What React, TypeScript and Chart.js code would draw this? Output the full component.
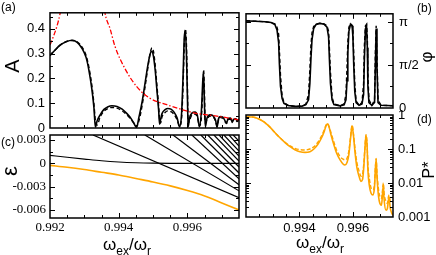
import React, { useEffect, useRef } from "react";
import { Chart, registerables } from "chart.js";

Chart.register(...registerables);

const SANS = "'Liberation Sans', Arial, Helvetica, sans-serif";
const SERIF = "'Liberation Serif', 'Times New Roman', serif";
const ORANGE = "#ffa500";
const RED = "#ff0000";

// ---------- panel (a): amplitude A ----------
const omegaA = [0.992, 0.99215, 0.99229, 0.99247, 0.99264, 0.99279, 0.99293, 0.99305, 0.99313, 0.99322,
  0.99328, 0.99332, 0.99337, 0.99346, 0.99357, 0.99369, 0.9938, 0.99395, 0.9941, 0.99424,
  0.99436, 0.99444, 0.99452, 0.99459, 0.99468, 0.99476, 0.99485, 0.99492, 0.99497, 0.99501,
  0.99506, 0.99511, 0.99516, 0.99519, 0.99522, 0.99526, 0.99535, 0.99543, 0.99552, 0.99561,
  0.9957, 0.99577, 0.99583, 0.99587, 0.99591, 0.99594, 0.99597, 0.996, 0.99602, 0.99606,
  0.99613, 0.99622, 0.99629, 0.99635, 0.99641, 0.99645, 0.99647, 0.99649, 0.99652, 0.99657,
  0.99666, 0.99674, 0.99682, 0.99686, 0.9969, 0.99696, 0.99703, 0.99711, 0.99714, 0.99718,
  0.99725, 0.9973, 0.99734, 0.99741, 0.99744, 0.9975];
const ampSolid = [0.293, 0.315, 0.334, 0.348, 0.354, 0.346, 0.322, 0.285, 0.235, 0.155,
  0.08, 0.004, 0.028, 0.053, 0.075, 0.086, 0.09, 0.087, 0.076, 0.058,
  0.038, 0.019, 0.003, 0.045, 0.105, 0.175, 0.255, 0.302, 0.31, 0.29,
  0.235, 0.155, 0.075, 0.015, 0.035, 0.058, 0.074, 0.079, 0.076, 0.064,
  0.04, 0.004, 0.06, 0.2, 0.37, 0.39, 0.3, 0.12, 0.005, 0.04,
  0.06, 0.064, 0.05, 0.005, 0.08, 0.2, 0.22, 0.12, 0.005, 0.04,
  0.053, 0.05, 0.03, 0.003, 0.035, 0.046, 0.044, 0.025, 0.02, 0.038,
  0.04, 0.025, 0.035, 0.037, 0.03, 0.036];
const ampDashed = [0.293, 0.315, 0.334, 0.349, 0.353, 0.348, 0.327, 0.293, 0.247, 0.17,
  0.095, 0.03, 0.012, 0.045, 0.068, 0.079, 0.083, 0.08, 0.069, 0.052,
  0.034, 0.02, 0.006, 0.03, 0.09, 0.16, 0.245, 0.305, 0.323, 0.31,
  0.255, 0.175, 0.09, 0.035, 0.02, 0.045, 0.063, 0.069, 0.066, 0.055,
  0.033, 0.008, 0.04, 0.16, 0.34, 0.4, 0.34, 0.16, 0.02, 0.03,
  0.053, 0.056, 0.043, 0.008, 0.05, 0.17, 0.235, 0.17, 0.02, 0.035,
  0.048, 0.045, 0.027, 0.006, 0.03, 0.042, 0.04, 0.022, 0.018, 0.034,
  0.036, 0.022, 0.032, 0.033, 0.026, 0.032];
const omegaRedLeft = [0.992, 0.99209, 0.9922, 0.99229, 0.99236];
const ampRedLeft = [0.335, 0.366, 0.41, 0.46, 0.52];
const omegaRedRight = [0.99355, 0.9936, 0.99375, 0.99389, 0.99418, 0.99453, 0.99491, 0.9954, 0.99578, 0.99622, 0.99686, 0.9975];
const ampRedRight = [0.52, 0.465, 0.4, 0.33, 0.24, 0.166, 0.12, 0.094, 0.077, 0.06, 0.048, 0.033];

// ---------- panel (b): phase ----------
const omegaB = [0.992, 0.99234, 0.99271, 0.99294, 0.99308, 0.99316, 0.99322, 0.99325, 0.99329, 0.99335,
  0.99342, 0.99357, 0.99383, 0.9941, 0.99424, 0.99434, 0.99439, 0.99443, 0.99447, 0.99453,
  0.99462, 0.99477, 0.99492, 0.99503, 0.99509, 0.99512, 0.99516, 0.99522, 0.99529, 0.99552,
  0.99567, 0.99574, 0.99578, 0.99581, 0.99585, 0.99591, 0.99597, 0.996, 0.99603, 0.99607,
  0.99612, 0.99623, 0.99634, 0.9964, 0.99643, 0.99647, 0.99651, 0.99654, 0.99656, 0.9966,
  0.99671, 0.99681, 0.99684, 0.99687, 0.9969, 0.99694, 0.99705, 0.9975];
const phaseSolid = [3.18, 3.17, 3.15, 3.12, 3.05, 2.85, 2.4, 1.6, 0.8, 0.35,
  0.17, 0.09, 0.06, 0.07, 0.12, 0.3, 0.9, 1.8, 2.5, 2.9,
  3.05, 3.09, 3.06, 2.95, 2.6, 1.8, 0.9, 0.3, 0.13, 0.08,
  0.12, 0.3, 1.0, 2.0, 2.8, 3.06, 3.0, 2.6, 1.6, 0.6,
  0.2, 0.1, 0.15, 0.5, 1.8, 2.9, 3.0, 2.2, 0.8, 0.2,
  0.1, 0.2, 1.5, 2.9, 1.5, 0.2, 0.1, 0.08];
const phaseDashed = [3.18, 3.17, 3.15, 3.12, 3.07, 2.95, 2.7, 2.1, 1.2, 0.45,
  0.2, 0.1, 0.06, 0.07, 0.14, 0.5, 1.4, 2.3, 2.75, 2.97,
  3.07, 3.1, 3.07, 3.0, 2.8, 2.2, 1.3, 0.4, 0.15, 0.08,
  0.15, 0.5, 1.5, 2.4, 2.95, 3.08, 3.02, 2.8, 2.0, 0.9,
  0.25, 0.1, 0.2, 0.9, 2.3, 3.0, 3.05, 2.6, 1.2, 0.3,
  0.1, 0.3, 2.0, 3.0, 1.9, 0.3, 0.1, 0.08];

// ---------- panel (c): quasi-energies ----------
const omegaLevel0 = [0.992, 0.9925, 0.993, 0.9935, 0.994, 0.9945, 0.995, 0.9955, 0.9975];
const epsLevel0 = [0.00102, 0.00078, 0.00055, 0.00033, 0.00017, 0.00007, 0.00002, 0, 0];
const omegaOrange = [0.992, 0.9925, 0.993, 0.9935, 0.994, 0.9945, 0.995, 0.9955, 0.996, 0.9965, 0.997, 0.9975];
const epsOrange = [-0.00026, -0.0005, -0.0008, -0.00115, -0.0015, -0.00195, -0.0024, -0.0029, -0.0035, -0.0042, -0.0051, -0.006];
const fanStartOmega = [0.99325, 0.99476, 0.99558, 0.99613, 0.99639, 0.99659, 0.99677, 0.99692, 0.99706, 0.99721, 0.99733];
const fanStartEps = 0.00364;
const fanEndOmega = 0.9975;
const fanEndEps = [-0.00443, -0.00354, -0.00277, -0.002, -0.00124, -0.00047, 0.00029, 0.00093, 0.00157, 0.00221, 0.00285];

// ---------- panel (d): P* ----------
const omegaD = [0.992, 0.99222, 0.99237, 0.99252, 0.99267, 0.99282, 0.99297, 0.99312, 0.99327, 0.99346,
  0.99365, 0.99383, 0.99402, 0.99421, 0.99439, 0.99454, 0.99469, 0.99481, 0.99492, 0.99499,
  0.99505, 0.99511, 0.99518, 0.99529, 0.9954, 0.99552, 0.99563, 0.9957, 0.99578, 0.99585,
  0.99591, 0.99597, 0.99602, 0.99608, 0.99615, 0.99623, 0.9963, 0.99636, 0.99641, 0.99645,
  0.99649, 0.99653, 0.99656, 0.99662, 0.99668, 0.99675, 0.99681, 0.99684, 0.99687, 0.9969,
  0.99696, 0.99701, 0.99707, 0.99711, 0.99714, 0.99716, 0.99724, 0.99729, 0.99733, 0.99736,
  0.99739, 0.99746, 0.9975];
const pSolid = [0.871, 0.871, 0.832, 0.741, 0.631, 0.501, 0.38, 0.282, 0.214, 0.155,
  0.117, 0.0955, 0.0832, 0.0794, 0.0832, 0.1, 0.138, 0.2, 0.316, 0.468,
  0.55, 0.437, 0.263, 0.132, 0.0724, 0.0479, 0.0363, 0.0339, 0.0398, 0.0708,
  0.2, 0.479, 0.251, 0.0794, 0.0282, 0.0158, 0.0112, 0.0126, 0.0316, 0.1,
  0.251, 0.126, 0.0251, 0.00794, 0.00501, 0.00447, 0.00794, 0.0251, 0.0501, 0.0158,
  0.00398, 0.00251, 0.00224, 0.00501, 0.00891, 0.00398, 0.00158, 0.00178, 0.00316, 0.00355,
  0.002, 0.00126, 0.00112];
const pDashed = [0.871, 0.871, 0.832, 0.741, 0.631, 0.501, 0.38, 0.282, 0.214, 0.158,
  0.123, 0.105, 0.0955, 0.0933, 0.1, 0.117, 0.158, 0.229, 0.355, 0.501,
  0.562, 0.457, 0.302, 0.158, 0.0891, 0.0603, 0.0501, 0.0479, 0.0537, 0.0891,
  0.224, 0.501, 0.282, 0.1, 0.0398, 0.0224, 0.0158, 0.0178, 0.0398, 0.112,
  0.263, 0.141, 0.0355, 0.0126, 0.00708, 0.00631, 0.01, 0.0282, 0.0525, 0.02,
  0.00631, 0.00398, 0.00355, 0.00631, 0.01, 0.00562, 0.00282, 0.00251, 0.00398, 0.00447,
  0.00316, 0.00282, 0.00282];

// ---------- ticks ----------
const xMajorTicks = [0.992, 0.994, 0.996];
const xMinorTicks = [0.9925, 0.993, 0.9935, 0.9945, 0.995, 0.9955, 0.9965, 0.997];
const xLabelValsC = [0.992, 0.994, 0.996];
const xLabelsC = ["0.992", "0.994", "0.996"];
const xLabelValsD = [0.994, 0.996];
const xLabelsD = ["0.994", "0.996"];
const aYMajor = [0, 0.1, 0.2, 0.3, 0.4];
const aYLabels = ["0", "0.1", "0.2", "0.3", "0.4"];
const aYMinor = [0.05, 0.15, 0.25, 0.35, 0.45];
const bYMajor = [0, Math.PI / 2, Math.PI];
const bYLabels = ["0", "π/2", "π"];
const bYMinor = [Math.PI / 4, (3 * Math.PI) / 4];
const cYMajor = [0.003, 0, -0.003, -0.006];
const cYLabels = ["0.003", "0", "-0.003", "-0.006"];
const cYMinor = [0.0015, -0.0015, -0.0045];
const dYMajor = [1, 0.1, 0.01, 0.001];
const dYLabels = ["1", "0.1", "0.01", "0.001"];
const dYMinor = [0.002, 0.003, 0.004, 0.005, 0.006, 0.007, 0.008, 0.009,
  0.02, 0.03, 0.04, 0.05, 0.06, 0.07, 0.08, 0.09,
  0.2, 0.3, 0.4, 0.5, 0.6, 0.7, 0.8, 0.9];

const pts = (xs: number[], ys: number[]) => xs.map((x, i) => ({ x, y: ys[i] }));

function line(data: any[], color: string, width: number, dash: number[] = [], smooth = true) {
  return {
    data,
    borderColor: color,
    borderWidth: width,
    borderDash: dash,
    pointRadius: 0,
    fill: false,
    tension: 0,
    cubicInterpolationMode: smooth ? "monotone" : "default",
  };
}

type Spec = {
  padding: { left: number; top: number; right: number; bottom: number };
  yWidth: number;
  xHeight: number;
  xMin: number;
  xMax: number;
  yMin: number;
  yMax: number;
  yType: "linear" | "logarithmic";
  yPos: "left" | "right";
  xLabelVals: number[] | null;
  xLabels: string[] | null;
  xFont: string;
  xPad: number;
  yLabelVals: number[];
  yLabels: string[];
  yFont: string;
  yPad: number;
  xMajor: number[];
  xMinor: number[];
  yMajor: number[];
  yMinor: number[];
  datasets: any[];
};

function framePlugin(spec: Spec) {
  return {
    id: "frameTicks",
    afterDatasetsDraw(chart: any) {
      const { ctx, chartArea: a } = chart;
      const xs = chart.scales.x;
      const ys = chart.scales.y;
      ctx.save();
      ctx.strokeStyle = "#000";
      ctx.lineWidth = 1;
      const drawX = (vals: number[], len: number) => {
        for (const v of vals) {
          const p = Math.round(xs.getPixelForValue(v)) + 0.5;
          if (p <= a.left + 1 || p >= a.right - 1) continue;
          ctx.beginPath();
          ctx.moveTo(p, a.bottom);
          ctx.lineTo(p, a.bottom - len);
          ctx.moveTo(p, a.top);
          ctx.lineTo(p, a.top + len);
          ctx.stroke();
        }
      };
      const drawY = (vals: number[], len: number) => {
        for (const v of vals) {
          const p = Math.round(ys.getPixelForValue(v)) + 0.5;
          if (p <= a.top + 1 || p >= a.bottom - 1) continue;
          ctx.beginPath();
          ctx.moveTo(a.left, p);
          ctx.lineTo(a.left + len, p);
          ctx.moveTo(a.right, p);
          ctx.lineTo(a.right - len, p);
          ctx.stroke();
        }
      };
      drawX(spec.xMajor, 5);
      drawX(spec.xMinor, 3);
      drawY(spec.yMajor, 5);
      drawY(spec.yMinor, 3);
      ctx.lineWidth = 1.5;
      ctx.strokeRect(a.left, a.top, a.right - a.left, a.bottom - a.top);
      ctx.restore();
    },
  };
}

function makeChart(canvas: HTMLCanvasElement, spec: Spec) {
  return new Chart(canvas, {
    type: "line",
    data: { datasets: spec.datasets },
    options: {
      animation: false,
      responsive: false,
      events: [],
      layout: { padding: spec.padding },
      plugins: { legend: { display: false }, tooltip: { enabled: false } },
      scales: {
        x: {
          type: "linear",
          position: "bottom",
          min: spec.xMin,
          max: spec.xMax,
          bounds: "data",
          grid: { display: false, drawTicks: false },
          border: { display: false },
          afterFit: (s: any) => {
            s.height = spec.xHeight;
          },
          afterBuildTicks: (s: any) => {
            s.ticks = (spec.xLabelVals || []).map((v) => ({ value: v }));
          },
          ticks: {
            display: !!spec.xLabels,
            autoSkip: false,
            maxRotation: 0,
            minRotation: 0,
            padding: spec.xPad,
            color: "#000",
            font: { family: spec.xFont, size: 13 },
            callback: (_v: any, i: number) => (spec.xLabels ? spec.xLabels[i] : ""),
          },
        },
        y: {
          type: spec.yType,
          position: spec.yPos,
          min: spec.yMin,
          max: spec.yMax,
          bounds: "data",
          grid: { display: false, drawTicks: false },
          border: { display: false },
          afterFit: (s: any) => {
            s.width = spec.yWidth;
          },
          afterBuildTicks: (s: any) => {
            s.ticks = spec.yLabelVals.map((v) => ({ value: v }));
          },
          ticks: {
            autoSkip: false,
            padding: spec.yPad,
            color: "#000",
            font: { family: spec.yFont, size: 13 },
            callback: (_v: any, i: number) => spec.yLabels[i],
          },
        },
      },
    } as any,
    plugins: [framePlugin(spec)],
  });
}

const fanDatasets = fanStartOmega.map((w, i) =>
  line([{ x: w, y: fanStartEps }, { x: fanEndOmega, y: fanEndEps[i] }], "#000", 1.2, [], false)
);

const specA: Spec = {
  padding: { left: 6, top: 4, right: 197, bottom: 125 },
  yWidth: 44,
  xHeight: 2,
  xMin: 0.992,
  xMax: 0.9975,
  yMin: 0,
  yMax: 0.465,
  yType: "linear",
  yPos: "left",
  xLabelVals: null,
  xLabels: null,
  xFont: SANS,
  xPad: 0,
  yLabelVals: aYMajor,
  yLabels: aYLabels,
  yFont: SANS,
  yPad: 5,
  xMajor: xMajorTicks,
  xMinor: xMinorTicks,
  yMajor: aYMajor,
  yMinor: aYMinor,
  datasets: [
    line(pts(omegaRedLeft, ampRedLeft), RED, 1.3, [5, 2, 1.5, 2]),
    line(pts(omegaRedRight, ampRedRight), RED, 1.3, [5, 2, 1.5, 2]),
    line(pts(omegaA, ampDashed), "#000", 1.4, [4, 2.5]),
    line(pts(omegaA, ampSolid), "#000", 1.6),
  ],
};

const specB: Spec = {
  padding: { left: 246, top: 4, right: 3, bottom: 145 },
  yWidth: 40,
  xHeight: 2,
  xMin: 0.992,
  xMax: 0.9975,
  yMin: 0,
  yMax: 3.44,
  yType: "linear",
  yPos: "right",
  xLabelVals: null,
  xLabels: null,
  xFont: SANS,
  xPad: 0,
  yLabelVals: bYMajor,
  yLabels: bYLabels,
  yFont: SANS,
  yPad: 6,
  xMajor: xMajorTicks,
  xMinor: xMinorTicks,
  yMajor: bYMajor,
  yMinor: bYMinor,
  datasets: [
    line(pts(omegaB, phaseDashed), "#000", 1.4, [4, 2.5], false),
    line(pts(omegaB, phaseSolid), "#000", 1.6, [], false),
  ],
};

const specC: Spec = {
  padding: { left: 6, top: 135, right: 197, bottom: 7 },
  yWidth: 44,
  xHeight: 30,
  xMin: 0.992,
  xMax: 0.9975,
  yMin: -0.00703,
  yMax: 0.00364,
  yType: "linear",
  yPos: "left",
  xLabelVals: xLabelValsC,
  xLabels: xLabelsC,
  xFont: SERIF,
  xPad: 2,
  yLabelVals: cYMajor,
  yLabels: cYLabels,
  yFont: SERIF,
  yPad: 4,
  xMajor: xMajorTicks,
  xMinor: xMinorTicks,
  yMajor: cYMajor,
  yMinor: cYMinor,
  datasets: [
    ...fanDatasets,
    line(pts(omegaLevel0, epsLevel0), "#000", 1.2),
    line(pts(omegaOrange, epsOrange), ORANGE, 1.6),
  ],
};

const specD: Spec = {
  padding: { left: 246, top: 115, right: 3, bottom: 8 },
  yWidth: 40,
  xHeight: 30,
  xMin: 0.992,
  xMax: 0.9975,
  yMin: 0.001,
  yMax: 1,
  yType: "logarithmic",
  yPos: "right",
  xLabelVals: xLabelValsD,
  xLabels: xLabelsD,
  xFont: SANS,
  xPad: 4,
  yLabelVals: dYMajor,
  yLabels: dYLabels,
  yFont: SANS,
  yPad: 5,
  xMajor: xMajorTicks,
  xMinor: xMinorTicks,
  yMajor: dYMajor,
  yMinor: dYMinor,
  datasets: [
    line(pts(omegaD, pDashed), ORANGE, 1.4, [4, 2]),
    line(pts(omegaD, pSolid), ORANGE, 1.6),
  ],
};

function Panel({ spec }: { spec: Spec }) {
  const ref = useRef<HTMLCanvasElement>(null);
  useEffect(() => {
    const chart = makeChart(ref.current as HTMLCanvasElement, spec);
    return () => chart.destroy();
  }, [spec]);
  return (
    <canvas
      ref={ref}
      width={436}
      height={255}
      style={{ position: "absolute", left: 0, top: 0, width: 436, height: 255 }}
    />
  );
}

const txt = (extra: React.CSSProperties): React.CSSProperties => ({
  position: "absolute",
  fontFamily: SANS,
  color: "#000",
  lineHeight: 1,
  whiteSpace: "nowrap",
  ...extra,
});

const rot = (cx: number, cy: number, size: number): React.CSSProperties =>
  txt({ left: cx, top: cy, fontSize: size, transform: "translate(-50%, -50%) rotate(-90deg)" });

function XTitle({ left, top }: { left: number; top: number }) {
  const sub: React.CSSProperties = { fontSize: 12, position: "relative", top: 5 };
  return (
    <div style={txt({ left, top, fontSize: 17 })}>
      ω<span style={sub}>ex</span>/ω<span style={sub}>r</span>
    </div>
  );
}

export default function App() {
  return (
    <div style={{ position: "absolute", left: 0, top: 0, width: 436, height: 255, background: "#fff", overflow: "hidden" }}>
      <Panel spec={specA} />
      <Panel spec={specB} />
      <Panel spec={specC} />
      <Panel spec={specD} />
      <div style={txt({ left: 1, top: 1, fontSize: 12 })}>(a)</div>
      <div style={txt({ left: 417, top: 2, fontSize: 12 })}>(b)</div>
      <div style={txt({ left: 1, top: 136, fontSize: 12 })}>(c)</div>
      <div style={txt({ left: 417, top: 113, fontSize: 12 })}>(d)</div>
      <div style={rot(12, 66, 20)}>A</div>
      <div style={rot(426, 57, 17)}>φ</div>
      <div style={rot(10, 171, 22)}>ε</div>
      <div style={rot(429, 170, 16)}>P*</div>
      <XTitle left={103} top={236} />
      <XTitle left={296} top={234} />
    </div>
  );
}
